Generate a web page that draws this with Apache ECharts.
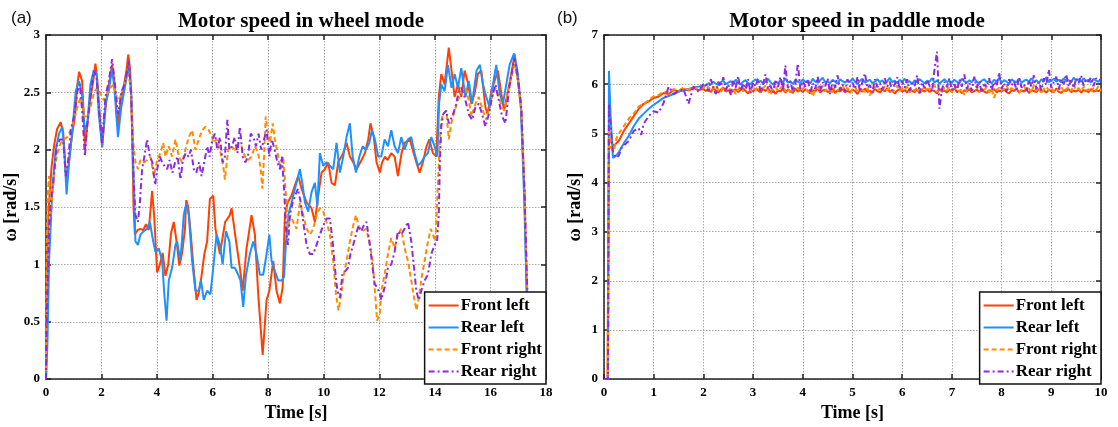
<!DOCTYPE html>
<html>
<head>
<meta charset="utf-8">
<script src="https://cdn.jsdelivr.net/npm/echarts@6/dist/echarts.min.js"></script>
<style>html,body{margin:0;padding:0;background:#fff;}#c{width:1118px;height:427px;}</style>
</head>
<body>
<div id="c"></div>
<script>
// ---------- data ----------
const seriesNames = ['Front left', 'Rear left', 'Front right', 'Rear right'];
const seriesColors = ['#FF4000', '#1E90FF', '#FF8C00', '#8A2BE2'];

// (a) wheel mode: [time s, speed rad/s]
const wheelFrontLeft = [[0,0],[0.05,1.1],[0.1,1.5],[0.2,1.85],[0.3,2.05],[0.4,2.18],[0.53,2.24],[0.62,2.15],[0.74,1.7],[0.85,1.95],[0.95,2.15],[1.05,2.3],[1.12,2.55],[1.19,2.68],[1.3,2.6],[1.36,2.3],[1.4,2.0],[1.5,2.25],[1.6,2.45],[1.7,2.6],[1.78,2.75],[1.85,2.6],[1.92,2.35],[2.02,2.02],[2.12,2.3],[2.2,2.49],[2.3,2.62],[2.38,2.74],[2.47,2.58],[2.58,2.2],[2.7,2.45],[2.8,2.55],[2.9,2.7],[2.96,2.83],[3.03,2.7],[3.1,2.17],[3.15,1.5],[3.2,1.26],[3.3,1.3],[3.4,1.31],[3.5,1.3],[3.6,1.35],[3.7,1.3],[3.82,1.64],[3.9,1.4],[4.0,0.93],[4.1,1.0],[4.2,1.1],[4.3,0.9],[4.4,1.0],[4.5,1.27],[4.6,1.37],[4.7,1.2],[4.8,0.99],[4.9,1.1],[5.0,1.3],[5.05,1.56],[5.12,1.5],[5.2,1.3],[5.3,1.0],[5.42,0.69],[5.5,0.75],[5.6,0.9],[5.7,1.09],[5.8,1.2],[5.9,1.57],[6.02,1.6],[6.1,1.31],[6.26,1.09],[6.45,1.37],[6.62,1.43],[6.68,1.49],[6.86,1.17],[6.98,0.97],[7.08,0.77],[7.22,1.14],[7.4,1.43],[7.52,1.26],[7.64,0.74],[7.8,0.21],[7.94,0.69],[8.04,0.77],[8.18,1.03],[8.3,0.77],[8.42,0.66],[8.52,0.8],[8.6,1.43],[8.7,1.54],[8.84,1.6],[8.96,1.69],[9.08,1.77],[9.2,1.66],[9.38,1.54],[9.56,1.49],[9.68,1.37],[9.8,1.6],[9.92,1.8],[10.04,1.83],[10.16,1.89],[10.28,1.71],[10.4,1.69],[10.52,1.89],[10.7,1.97],[10.82,2.06],[10.94,1.94],[11.06,1.89],[11.18,1.83],[11.36,1.91],[11.48,1.97],[11.6,2.09],[11.68,2.23],[11.8,2.11],[11.9,1.89],[12.02,1.8],[12.1,1.89],[12.2,1.94],[12.3,1.91],[12.43,1.97],[12.55,1.94],[12.67,1.77],[12.8,1.97],[12.91,2.06],[13.1,2.09],[13.2,2.0],[13.33,1.89],[13.45,1.8],[13.57,1.89],[13.7,2.03],[13.8,2.09],[13.93,1.97],[14.05,1.94],[14.14,2.46],[14.23,2.66],[14.35,2.57],[14.5,2.89],[14.6,2.69],[14.71,2.46],[14.83,2.57],[14.95,2.46],[15.07,2.69],[15.2,2.57],[15.31,2.4],[15.43,2.49],[15.55,2.66],[15.67,2.69],[15.82,2.37],[15.9,2.31],[16.03,2.51],[16.15,2.6],[16.27,2.69],[16.39,2.49],[16.49,2.34],[16.63,2.51],[16.75,2.66],[16.87,2.83],[16.99,2.6],[17.11,2.34],[17.23,1.6],[17.29,0.89],[17.38,0.17],[17.47,0]];
const wheelRearLeft = [[0,0],[0.05,0.3],[0.11,1.03],[0.23,1.66],[0.35,2.0],[0.47,2.14],[0.59,2.2],[0.67,1.94],[0.74,1.61],[0.83,1.89],[0.95,2.17],[1.07,2.51],[1.19,2.6],[1.31,2.46],[1.39,2.17],[1.49,2.23],[1.6,2.57],[1.72,2.69],[1.82,2.66],[1.9,2.31],[2.02,2.03],[2.14,2.4],[2.26,2.51],[2.38,2.71],[2.47,2.51],[2.59,2.11],[2.71,2.37],[2.86,2.57],[2.98,2.74],[3.07,2.51],[3.14,1.89],[3.22,1.2],[3.31,1.17],[3.4,1.26],[3.52,1.29],[3.64,1.31],[3.74,1.37],[3.86,1.2],[3.94,1.11],[4.06,1.14],[4.18,1.03],[4.26,0.74],[4.34,0.51],[4.42,0.86],[4.54,0.97],[4.66,1.17],[4.72,1.2],[4.84,1.03],[4.96,1.43],[5.05,1.53],[5.14,1.43],[5.26,1.03],[5.38,0.77],[5.5,0.77],[5.58,0.86],[5.68,0.69],[5.8,0.77],[5.92,0.74],[6.02,0.97],[6.14,1.26],[6.26,1.17],[6.36,1.0],[6.48,1.29],[6.6,1.2],[6.68,0.97],[6.8,0.97],[6.92,0.91],[7.0,0.86],[7.1,0.63],[7.2,0.91],[7.34,1.09],[7.46,1.2],[7.58,1.09],[7.7,0.91],[7.82,0.91],[7.94,1.09],[8.04,1.26],[8.12,1.03],[8.24,0.94],[8.36,0.86],[8.48,0.86],[8.57,0.89],[8.64,1.2],[8.72,1.43],[8.84,1.54],[8.96,1.66],[9.05,1.74],[9.14,1.83],[9.24,1.69],[9.32,1.54],[9.44,1.46],[9.56,1.63],[9.68,1.71],[9.77,1.51],[9.86,1.97],[9.98,1.86],[10.1,1.89],[10.22,1.86],[10.34,1.83],[10.46,2.06],[10.58,1.8],[10.7,1.94],[10.82,2.11],[10.94,2.23],[11.04,1.94],[11.16,1.8],[11.28,1.94],[11.4,2.03],[11.52,2.0],[11.64,2.06],[11.73,2.17],[11.84,2.09],[11.96,1.94],[12.07,1.94],[12.19,2.09],[12.31,2.03],[12.43,2.17],[12.55,2.03],[12.67,1.97],[12.79,2.11],[12.91,2.0],[13.03,2.09],[13.15,2.11],[13.27,1.97],[13.39,1.86],[13.51,1.89],[13.63,1.94],[13.75,1.97],[13.87,2.11],[13.99,2.03],[14.09,1.94],[14.15,2.4],[14.23,2.57],[14.35,2.51],[14.47,2.74],[14.6,2.54],[14.71,2.66],[14.83,2.54],[14.95,2.71],[15.1,2.46],[15.22,2.6],[15.34,2.4],[15.5,2.69],[15.62,2.74],[15.73,2.57],[15.85,2.46],[15.97,2.37],[16.09,2.57],[16.21,2.74],[16.33,2.49],[16.45,2.4],[16.57,2.57],[16.69,2.74],[16.85,2.84],[16.97,2.69],[17.09,2.4],[17.21,1.6],[17.31,0.74],[17.41,0.03],[17.47,0]];
const wheelFrontRight = [[0,0],[0.03,1.2],[0.06,1.6],[0.11,1.77],[0.17,1.43],[0.23,1.6],[0.31,1.83],[0.41,1.97],[0.53,2.06],[0.65,2.09],[0.77,2.11],[0.89,2.17],[1.01,2.26],[1.13,2.37],[1.25,2.46],[1.37,2.29],[1.49,2.29],[1.6,2.37],[1.72,2.49],[1.84,2.54],[1.96,2.49],[2.08,2.43],[2.2,2.49],[2.32,2.54],[2.44,2.57],[2.56,2.43],[2.68,2.46],[2.8,2.57],[2.98,2.66],[3.07,2.46],[3.14,2.06],[3.22,1.89],[3.31,1.83],[3.4,1.91],[3.52,1.89],[3.64,1.91],[3.76,1.94],[3.88,1.77],[4.0,1.91],[4.12,1.97],[4.22,2.06],[4.3,1.94],[4.42,2.03],[4.54,1.94],[4.66,2.09],[4.78,1.94],[4.9,1.89],[5.02,2.0],[5.14,2.11],[5.26,2.17],[5.38,2.0],[5.5,2.09],[5.62,2.17],[5.74,2.2],[5.86,2.17],[5.98,2.11],[6.02,2.06],[6.14,2.09],[6.26,2.0],[6.38,1.86],[6.44,1.74],[6.56,2.0],[6.68,2.03],[6.8,2.0],[6.92,2.06],[7.04,2.03],[7.16,1.94],[7.28,1.91],[7.4,1.94],[7.52,2.03],[7.64,1.97],[7.73,1.83],[7.79,1.66],[7.85,1.94],[7.91,2.29],[7.97,2.17],[8.06,2.06],[8.16,2.23],[8.24,2.09],[8.36,1.94],[8.45,1.83],[8.54,1.94],[8.64,1.6],[8.72,1.31],[8.8,1.43],[8.9,1.37],[9.02,1.31],[9.14,1.54],[9.26,1.43],[9.38,1.31],[9.5,1.26],[9.62,1.31],[9.74,1.43],[9.86,1.49],[9.98,1.46],[10.1,1.37],[10.22,1.26],[10.34,1.03],[10.44,0.74],[10.53,0.6],[10.63,0.74],[10.72,0.91],[10.82,1.03],[10.94,1.2],[11.06,1.34],[11.16,1.43],[11.28,1.31],[11.4,1.29],[11.52,1.31],[11.64,1.2],[11.76,1.03],[11.84,0.77],[11.92,0.51],[12.02,0.57],[12.07,0.77],[12.19,0.91],[12.31,1.09],[12.43,1.23],[12.55,1.14],[12.67,1.26],[12.79,1.31],[12.91,1.14],[13.03,1.03],[13.15,0.86],[13.25,0.71],[13.34,0.6],[13.44,0.74],[13.54,0.91],[13.63,1.03],[13.75,1.2],[13.85,1.31],[13.93,1.26],[14.02,1.2],[14.09,1.6],[14.15,1.94],[14.21,2.23],[14.29,2.31],[14.41,2.34],[14.5,2.09],[14.59,2.23],[14.71,2.34],[14.83,2.43],[14.95,2.51],[15.1,2.54],[15.22,2.43],[15.31,2.29],[15.46,2.4],[15.58,2.46],[15.73,2.34],[15.85,2.26],[15.94,2.34],[16.06,2.46],[16.18,2.54],[16.3,2.46],[16.42,2.37],[16.51,2.34],[16.63,2.49],[16.75,2.63],[16.87,2.74],[16.99,2.6],[17.11,2.37],[17.23,1.6],[17.33,0.74],[17.43,0.03],[17.5,0]];
const wheelRearRight = [[0,0],[0.02,0.46],[0.11,1.31],[0.17,1.54],[0.26,1.71],[0.38,2.03],[0.5,2.09],[0.62,2.09],[0.71,1.77],[0.79,1.89],[0.89,2.17],[1.01,2.29],[1.13,2.51],[1.22,2.57],[1.31,2.31],[1.4,1.94],[1.49,2.23],[1.6,2.46],[1.72,2.69],[1.82,2.63],[1.9,2.37],[2.02,2.06],[2.14,2.46],[2.26,2.6],[2.38,2.79],[2.47,2.6],[2.59,2.31],[2.71,2.49],[2.86,2.6],[2.98,2.77],[3.07,2.46],[3.14,1.83],[3.22,1.43],[3.31,1.37],[3.38,1.54],[3.46,1.83],[3.54,1.94],[3.64,2.09],[3.74,1.94],[3.83,1.89],[3.93,1.69],[4.0,1.83],[4.1,1.94],[4.18,1.89],[4.26,1.86],[4.36,1.83],[4.45,1.91],[4.55,1.8],[4.65,1.89],[4.74,1.94],[4.84,1.74],[4.93,1.91],[5.03,1.97],[5.13,1.94],[5.22,2.0],[5.32,1.83],[5.41,1.8],[5.51,1.89],[5.6,1.77],[5.7,1.89],[5.8,2.03],[5.89,1.94],[5.99,2.09],[6.08,2.14],[6.17,2.0],[6.26,2.11],[6.36,1.89],[6.44,1.94],[6.53,2.26],[6.6,2.0],[6.7,2.03],[6.79,2.11],[6.89,1.97],[6.98,2.2],[7.08,1.94],[7.18,1.89],[7.27,1.94],[7.37,2.14],[7.46,2.11],[7.56,2.03],[7.65,2.14],[7.75,2.0],[7.85,2.09],[7.94,2.17],[8.04,1.94],[8.13,2.09],[8.23,2.0],[8.33,1.89],[8.42,1.83],[8.49,1.94],[8.57,1.66],[8.64,1.31],[8.71,1.17],[8.78,1.43],[8.88,1.54],[8.97,1.6],[9.07,1.66],[9.17,1.54],[9.26,1.37],[9.38,1.17],[9.5,1.09],[9.62,1.09],[9.74,1.17],[9.86,1.26],[9.98,1.34],[10.1,1.4],[10.22,1.4],[10.32,1.2],[10.4,0.97],[10.49,0.77],[10.58,0.71],[10.67,0.91],[10.77,0.94],[10.87,0.97],[10.96,1.09],[11.06,1.17],[11.16,1.26],[11.25,1.34],[11.35,1.29],[11.44,1.34],[11.54,1.37],[11.64,1.2],[11.73,1.03],[11.83,0.83],[11.92,0.8],[12.02,0.74],[12.07,0.69],[12.19,0.8],[12.31,0.97],[12.43,1.0],[12.55,1.11],[12.67,1.29],[12.79,1.26],[12.91,1.31],[13.03,1.37],[13.15,1.2],[13.25,0.97],[13.33,0.77],[13.42,0.69],[13.51,0.77],[13.63,0.86],[13.75,0.91],[13.87,1.09],[13.99,1.17],[14.08,1.2],[14.14,1.43],[14.18,1.89],[14.23,2.2],[14.3,2.31],[14.41,2.34],[14.5,2.23],[14.62,2.29],[14.74,2.37],[14.86,2.51],[14.95,2.54],[15.07,2.46],[15.22,2.31],[15.34,2.26],[15.46,2.37],[15.58,2.4],[15.7,2.31],[15.82,2.2],[15.94,2.31],[16.06,2.46],[16.18,2.57],[16.3,2.43],[16.42,2.29],[16.54,2.23],[16.66,2.51],[16.78,2.69],[16.87,2.8],[16.99,2.63],[17.11,2.37],[17.23,1.6],[17.33,0.74],[17.43,0.03],[17.5,0],[18,0]];

// (b) paddle mode: start-up transient [time, speed], then steady values sampled every 0.05 s from 2.05 s to 10.0 s
const paddleStartFrontLeft = [[0,0],[0.07,0],[0.1,4.9],[0.15,4.8],[0.2,4.75],[0.3,4.85],[0.4,5.05],[0.5,5.2],[0.6,5.35],[0.7,5.5],[0.8,5.6],[0.9,5.65],[1.0,5.72],[1.1,5.75],[1.2,5.82],[1.3,5.8],[1.4,5.88],[1.5,5.85],[1.6,5.9],[1.7,5.87],[1.8,5.92],[1.9,5.88],[2.0,5.9]];
const paddleStartRearLeft = [[0,0],[0.08,0],[0.1,6.27],[0.13,5.4],[0.18,4.5],[0.25,4.55],[0.3,4.62],[0.4,4.8],[0.5,4.95],[0.6,5.15],[0.7,5.3],[0.8,5.4],[0.9,5.5],[1.0,5.58],[1.1,5.65],[1.2,5.72],[1.3,5.76],[1.4,5.8],[1.5,5.85],[1.6,5.87],[1.7,5.9],[1.8,5.93],[1.9,5.95],[2.0,5.97]];
const paddleStartFrontRight = [[0,0],[0.08,0],[0.1,5.1],[0.14,4.7],[0.2,4.65],[0.25,4.9],[0.3,5.0],[0.4,5.15],[0.5,5.3],[0.6,5.4],[0.7,5.55],[0.8,5.6],[0.9,5.68],[1.0,5.75],[1.1,5.78],[1.2,5.85],[1.3,5.83],[1.4,5.9],[1.5,5.87],[1.6,5.93],[1.7,5.89],[1.8,5.95],[1.9,5.9],[2.0,5.94]];
const paddleStartRearRight = [[0,0],[0.08,0],[0.1,5.6],[0.13,5.2],[0.18,4.6],[0.25,4.5],[0.3,4.55],[0.35,4.7],[0.4,4.75],[0.5,4.85],[0.6,5.05],[0.7,5.1],[0.75,4.97],[0.8,5.2],[0.9,5.35],[1.0,5.45],[1.1,5.42],[1.2,5.62],[1.3,5.95],[1.4,5.8],[1.5,5.85],[1.6,5.9],[1.7,5.6],[1.8,5.95],[1.9,5.85],[2.0,6.0]];
const paddleSteadyStart = 2.05, paddleSteadyStep = 0.05;
const paddleSteadyFrontLeft = [5.86,5.9,5.84,5.91,5.87,5.83,5.89,5.93,5.85,5.88,5.82,5.87,5.9,5.84,5.88,5.92,5.86,5.81,5.89,5.85,5.91,5.87,5.83,5.9,5.86,5.92,5.84,5.88,5.8,5.87,5.85,5.9,5.83,5.89,5.86,5.82,5.91,5.85,5.88,5.84,5.9,5.86,5.81,5.88,5.85,5.92,5.83,5.87,5.89,5.84,5.86,5.91,5.82,5.88,5.85,5.9,5.84,5.87,5.83,5.89,5.86,5.8,5.88,5.85,5.91,5.84,5.87,5.82,5.9,5.86,5.83,5.89,5.85,5.92,5.84,5.88,5.81,5.87,5.9,5.85,5.88,5.83,5.91,5.86,5.84,5.89,5.82,5.87,5.85,5.9,5.84,5.88,5.86,5.81,5.9,5.85,5.87,5.83,5.89,5.86,5.92,5.84,5.87,5.82,5.88,5.85,5.9,5.83,5.86,5.89,5.84,5.91,5.85,5.82,5.88,5.86,5.9,5.83,5.87,5.85,5.89,5.84,5.81,5.88,5.86,5.91,5.83,5.87,5.85,5.9,5.82,5.88,5.86,5.84,5.9,5.85,5.87,5.83,5.89,5.86,5.84,5.91,5.85,5.82,5.88,5.86,5.9,5.84,5.87,5.85,5.89,5.83,5.88,5.86,5.84,5.9,5.85,5.87,5.86,5.88];
const paddleSteadyRearLeft = [5.97,6.02,5.99,6.05,6.01,5.98,6.04,6.07,6.0,6.03,6.06,6.01,6.09,6.03,5.99,6.05,6.08,6.02,6.0,6.06,6.1,6.03,6.07,6.01,6.05,6.11,6.04,5.99,6.06,6.02,6.08,6.04,6.12,6.03,6.06,6.0,6.09,6.05,6.02,6.1,6.04,6.07,6.01,6.11,6.05,6.03,6.08,6.13,6.04,6.06,6.02,6.09,6.05,6.01,6.1,6.06,6.03,6.08,6.04,6.12,6.05,6.0,6.07,6.11,6.03,6.06,6.09,6.02,6.05,6.1,6.04,6.08,6.01,6.06,6.13,6.04,6.07,6.02,6.09,6.05,6.11,6.03,6.06,6.0,6.08,6.04,6.1,6.06,6.02,6.07,6.05,6.12,6.03,6.08,6.01,6.06,6.1,6.04,6.07,6.03,6.09,6.05,6.02,6.11,6.06,6.03,6.08,6.04,6.12,6.05,6.01,6.07,6.1,6.04,6.06,6.02,6.09,6.05,6.13,6.03,6.08,6.05,6.01,6.1,6.06,6.04,6.11,6.03,6.07,6.09,6.05,6.12,6.04,6.08,6.02,6.1,6.06,6.14,6.04,6.07,6.11,6.05,6.09,6.03,6.12,6.06,6.08,6.04,6.13,6.07,6.1,6.05,6.12,6.06,6.09,6.03,6.11,6.07,6.05,6.1];
const paddleSteadyFrontRight = [5.9,5.95,5.86,5.93,5.98,5.88,5.83,5.94,5.9,5.97,5.87,5.92,5.8,5.9,5.96,5.85,5.91,5.99,5.86,5.93,5.89,5.95,5.84,5.92,5.97,5.87,5.78,5.9,5.94,5.86,5.92,5.98,5.85,5.9,5.83,5.95,5.88,5.93,5.86,5.91,5.96,5.84,5.9,5.75,5.88,5.94,5.87,5.97,5.85,5.92,5.89,5.83,5.95,5.87,5.91,5.98,5.86,5.93,5.82,5.9,5.94,5.86,5.99,5.88,5.84,5.92,5.77,5.89,5.95,5.87,5.91,5.85,5.96,5.88,5.93,5.84,5.9,5.97,5.86,5.92,5.88,5.95,5.83,5.91,5.87,5.94,5.79,5.89,5.96,5.85,5.92,5.88,5.98,5.84,5.9,5.86,5.93,5.87,5.95,5.83,5.89,5.96,5.85,5.91,5.78,5.88,5.94,5.86,5.92,5.97,5.84,5.9,5.87,5.95,5.83,5.91,5.72,5.88,5.93,5.86,5.9,5.97,5.85,5.92,5.88,5.94,5.82,5.89,5.96,5.87,5.91,5.84,5.98,5.86,5.93,5.8,5.9,5.95,5.87,5.92,5.85,5.91,5.88,5.96,5.83,5.9,5.94,5.86,5.99,5.88,5.92,5.85,5.95,5.87,5.9,5.83,5.93,5.88,5.96,5.86];
const paddleSteadyRearRight = [6.02,5.85,6.1,5.92,5.8,6.05,5.95,6.14,5.88,6.0,5.78,6.08,5.93,6.16,5.86,6.02,5.9,6.1,5.82,6.04,5.95,6.12,5.84,6.0,6.2,5.9,5.97,5.83,6.08,5.94,6.15,5.87,6.38,5.92,6.05,5.85,6.0,6.42,5.9,6.06,5.95,6.1,5.82,6.02,5.9,6.15,5.86,6.04,5.96,6.12,5.8,6.07,5.93,6.18,5.88,6.0,5.84,6.1,5.95,6.03,5.9,6.15,5.85,6.05,6.22,5.92,5.98,5.83,6.1,5.94,6.02,5.88,6.12,5.95,6.05,5.87,6.0,6.14,5.9,6.06,5.93,6.1,5.86,6.02,5.96,6.18,5.82,6.04,5.92,6.08,5.97,5.85,6.3,6.66,5.5,5.9,6.05,5.94,6.12,5.88,6.0,5.84,6.1,5.95,6.2,5.9,6.03,5.86,6.15,5.92,6.06,5.82,6.0,5.94,6.12,5.88,6.05,5.96,6.24,5.9,6.02,5.85,6.1,5.97,6.06,5.88,6.14,5.93,6.0,5.86,6.08,5.95,6.18,5.9,6.04,5.87,6.12,5.98,6.3,5.92,6.05,6.15,5.9,6.1,6.0,6.2,5.95,6.08,5.92,6.12,6.02,6.18,5.97,6.1,6.05,6.14,5.96,6.12,6.08,6.1];

// axis ticks
const wheelXTicks = {min: 0, max: 18, interval: 2};
const wheelYTicks = {min: 0, max: 3, interval: 0.5};
const paddleXTicks = {min: 0, max: 10, interval: 1};
const paddleYTicks = {min: 0, max: 7, interval: 1};

// ---------- build ----------
function joinSteady(start, steady) {
  const out = start.slice();
  steady.forEach((v, i) => out.push([+(paddleSteadyStart + i * paddleSteadyStep).toFixed(2), v]));
  return out;
}
const paddleData = [
  joinSteady(paddleStartFrontLeft, paddleSteadyFrontLeft),
  joinSteady(paddleStartRearLeft, paddleSteadyRearLeft),
  joinSteady(paddleStartFrontRight, paddleSteadyFrontRight),
  joinSteady(paddleStartRearRight, paddleSteadyRearRight)
];
const wheelData = [wheelFrontLeft, wheelRearLeft, wheelFrontRight, wheelRearRight];
const lineTypes = ['solid', 'solid', [5, 3], [6, 3, 2, 3]];

const serif = "'Liberation Serif', 'Times New Roman', serif";
const frameColor = '#222';
const labelStyle = {fontFamily: serif, fontWeight: 'bold', fontSize: 13, color: '#000'};

function mainAxis(kind, ticks, gridIndex, name, pos) {
  const isX = kind === 'x';
  return {
    type: 'value', gridIndex, position: pos,
    min: ticks.min, max: ticks.max, interval: ticks.interval,
    name, nameLocation: 'middle', nameGap: isX ? 18 : 20,
    nameTextStyle: {fontFamily: serif, fontWeight: 'bold', fontSize: 18, color: '#000'},
    axisLine: {show: true, onZero: false, lineStyle: {color: frameColor, width: 1.5}},
    axisTick: {show: true, inside: true, length: 5, lineStyle: {color: frameColor, width: 1.5}},
    axisLabel: Object.assign({margin: isX ? 7 : 6}, labelStyle),
    splitLine: {show: true, lineStyle: {color: '#aaa', type: [1.5, 1.5], width: 1}}
  };
}
function mirrorAxis(ticks, gridIndex, pos) {
  return {
    type: 'value', gridIndex, position: pos,
    min: ticks.min, max: ticks.max, interval: ticks.interval,
    axisLine: {show: true, onZero: false, lineStyle: {color: frameColor, width: 1.5}},
    axisTick: {show: true, inside: true, length: 5, lineStyle: {color: frameColor, width: 1.5}},
    axisLabel: {show: false}, splitLine: {show: false}
  };
}

const xAxes = [
  mainAxis('x', wheelXTicks, 0, 'Time [s]', 'bottom'),
  mainAxis('x', paddleXTicks, 1, 'Time [s]', 'bottom'),
  mirrorAxis(wheelXTicks, 0, 'top'),
  mirrorAxis(paddleXTicks, 1, 'top')
];
const yAxes = [
  mainAxis('y', wheelYTicks, 0, 'ω [rad/s]', 'left'),
  mainAxis('y', paddleYTicks, 1, 'ω [rad/s]', 'left'),
  mirrorAxis(wheelYTicks, 0, 'right'),
  mirrorAxis(paddleYTicks, 1, 'right')
];

const series = [];
[wheelData, paddleData].forEach((set, g) => {
  set.forEach((d, i) => {
    series.push({
      type: 'line', name: seriesNames[i], xAxisIndex: g, yAxisIndex: g,
      data: d, symbol: 'none', showSymbol: false, clip: true,
      lineStyle: {color: seriesColors[i], width: 2, type: lineTypes[i]},
      itemStyle: {color: seriesColors[i]}, z: 2
    });
  });
});

function legendAt(right) {
  return {
    orient: 'vertical', right, bottom: 43, z: 20,
    data: seriesNames, backgroundColor: '#fff',
    borderColor: '#111', borderWidth: 1.5, borderRadius: 0,
    padding: [5, 4, 4, 3], itemGap: 5, itemWidth: 30, itemHeight: 12,
    itemStyle: {color: 'rgba(0,0,0,0)', borderColor: 'rgba(0,0,0,0)', borderWidth: 0},
    textStyle: {fontFamily: serif, fontWeight: 'bold', fontSize: 17, color: '#000', padding: [0, 0, 0, -3]},
    selectedMode: false
  };
}

const option = {
  animation: false,
  backgroundColor: '#fff',
  title: [
    {text: 'Motor speed in wheel mode', left: 296, top: 6, textAlign: 'center',
     textStyle: {fontFamily: serif, fontWeight: 'bold', fontSize: 21, color: '#000'}},
    {text: 'Motor speed in paddle mode', left: 852, top: 6, textAlign: 'center',
     textStyle: {fontFamily: serif, fontWeight: 'bold', fontSize: 21, color: '#000'}},
    {text: '(a)', left: 6, top: 5, textStyle: {fontFamily: "'Liberation Sans', Arial, sans-serif", fontWeight: 'normal', fontSize: 17, color: '#111'}},
    {text: '(b)', left: 552, top: 5, textStyle: {fontFamily: "'Liberation Sans', Arial, sans-serif", fontWeight: 'normal', fontSize: 17, color: '#111'}}
  ],
  grid: [
    {left: 46, right: 572, top: 35, bottom: 43, containLabel: false},
    {left: 604, right: 17, top: 35, bottom: 43, containLabel: false}
  ],
  xAxis: xAxes,
  yAxis: yAxes,
  legend: [legendAt(572), legendAt(17)],
  series
};

const chart = echarts.init(document.getElementById('c'), null, {renderer: 'canvas'});
chart.setOption(option);
</script>
</body>
</html>
